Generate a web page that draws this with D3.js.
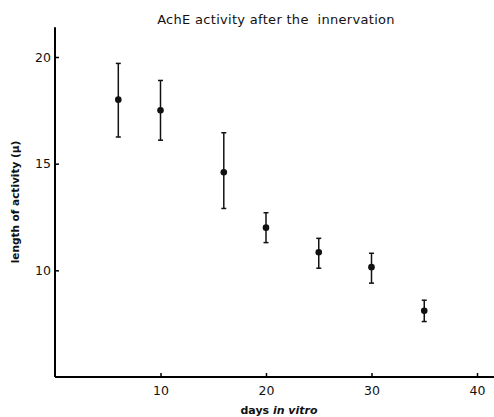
<!DOCTYPE html>
<html>
<head>
<meta charset="utf-8">
<script src="https://cdn.jsdelivr.net/npm/d3@7"></script>
<style>
  body { margin: 0; background: #fff; }
  text { font-family: "DejaVu Sans", sans-serif; fill: #111; }
</style>
</head>
<body>
<div id="chart"></div>
<script>
// Données
const days = [6, 10, 16, 20, 25, 30, 35];
const meanLength = [18.0, 17.5, 14.6, 12.0, 10.85, 10.15, 8.1];
const lowLength = [16.25, 16.1, 12.9, 11.3, 10.1, 9.4, 7.6];
const highLength = [19.7, 18.9, 16.45, 12.7, 11.5, 10.8, 8.6];
const xTicks = [10, 20, 30, 40];
const yTicks = [10, 15, 20];

const width = 494, height = 417;

const svg = d3.select("#chart").append("svg")
    .attr("width", width)
    .attr("height", height);

// Échelles
const x = d3.scaleLinear().domain([0, 40]).range([55, 477]);
const y = d3.scaleLinear().domain([5, 20]).range([377, 57]);

// Titre
svg.append("text")
    .attr("x", 276)
    .attr("y", 24)
    .attr("text-anchor", "middle")
    .style("font-size", "13px")
    .style("letter-spacing", "0.3px")
    .style("white-space", "pre")
    .text("AchE activity after the  innervation");

// Axe x (graduations vers l'intérieur)
const xAxis = svg.append("g")
    .attr("transform", `translate(0,${y(5)})`)
    .call(d3.axisBottom(x).tickValues(xTicks).tickSizeInner(-4).tickSizeOuter(0).tickPadding(9));
xAxis.select(".domain").attr("d", `M${x(0)},0H${x(41.7)}`).attr("stroke-width", 2);
xAxis.selectAll(".tick line").attr("stroke-width", 1.5);
xAxis.selectAll(".tick text").style("font-size", "12.5px");

// Axe y
const yAxis = svg.append("g")
    .attr("transform", `translate(${x(0)},0)`)
    .call(d3.axisLeft(y).tickValues(yTicks).tickSizeInner(-4).tickSizeOuter(0).tickPadding(4));
yAxis.select(".domain").attr("d", `M0,${y(5)}V${y(21.4)}`).attr("stroke-width", 2);
yAxis.selectAll(".tick line").attr("stroke-width", 1.5);
yAxis.selectAll(".tick text").style("font-size", "12.5px");

// Titres des axes
const xLabel = svg.append("text")
    .attr("x", 279)
    .attr("y", 414)
    .attr("text-anchor", "middle")
    .style("font-size", "11px")
    .style("font-weight", "bold");
xLabel.append("tspan").text("days ");
xLabel.append("tspan").style("font-style", "italic").text("in vitro");

svg.append("text")
    .attr("transform", "translate(19,202) rotate(-90)")
    .attr("text-anchor", "middle")
    .style("font-size", "10.5px")
    .style("font-weight", "bold")
    .text("length of activity (\u03bc)");

// Barres d'erreur et points
const points = days.map((d, i) => ({ day: d, mean: meanLength[i], low: lowLength[i], high: highLength[i] }));

const g = svg.append("g").attr("stroke", "#111").attr("fill", "#111");

g.selectAll("line.bar")
    .data(points)
    .enter()
    .append("line")
    .attr("class", "bar")
    .attr("x1", d => x(d.day))
    .attr("x2", d => x(d.day))
    .attr("y1", d => y(d.low))
    .attr("y2", d => y(d.high))
    .attr("stroke-width", 1.5);

["low", "high"].forEach(k => {
    g.selectAll("line.cap-" + k)
        .data(points)
        .enter()
        .append("line")
        .attr("class", "cap-" + k)
        .attr("x1", d => x(d.day) - 2.5)
        .attr("x2", d => x(d.day) + 2.5)
        .attr("y1", d => y(d[k]))
        .attr("y2", d => y(d[k]))
        .attr("stroke-width", 1.5);
});

g.selectAll("circle")
    .data(points)
    .enter()
    .append("circle")
    .attr("cx", d => x(d.day))
    .attr("cy", d => y(d.mean))
    .attr("r", 3.3)
    .attr("stroke", "none");
</script>
</body>
</html>
